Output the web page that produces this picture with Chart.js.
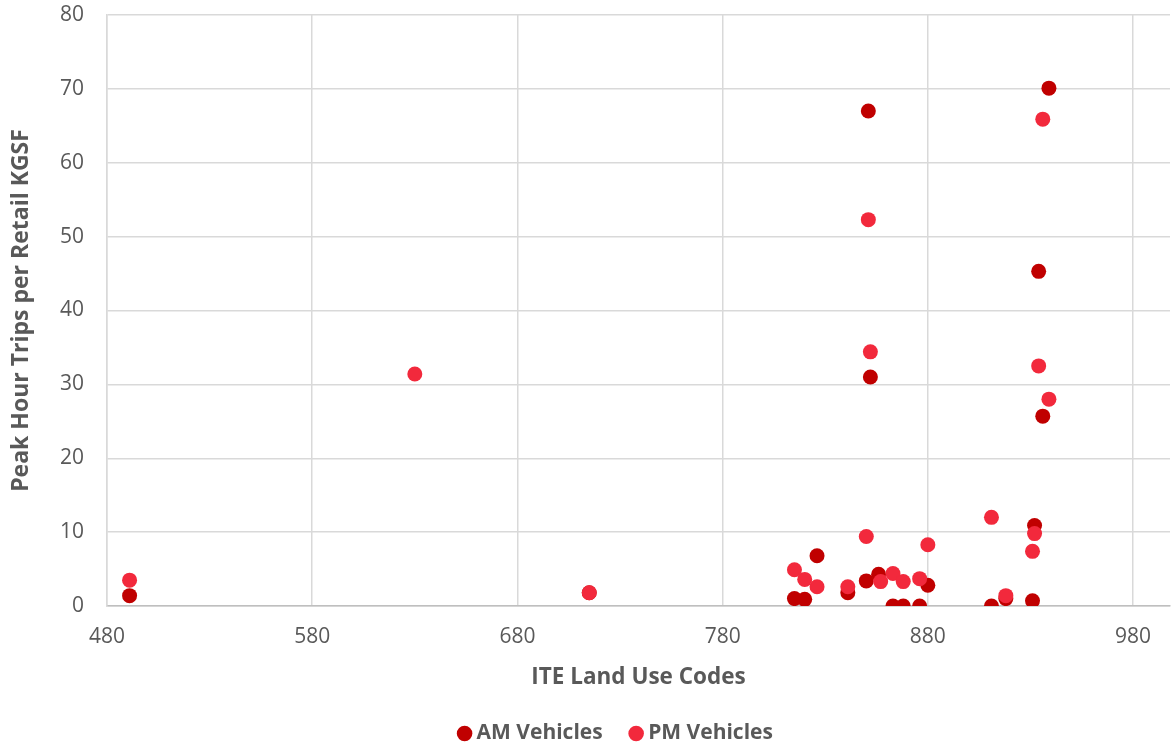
<!DOCTYPE html>
<html lang="en">

<head>
    <meta charset="UTF-8">
    <title>ITE Land Use Codes</title>
    <script src="https://cdn.jsdelivr.net/npm/chart.js"></script>
    <style>
        body { margin: 0; background: #ffffff; }
        .grafico { width: 1171px; height: 751px; }
    </style>
</head>

<body>
    <div class="grafico">
        <canvas id="myChart" width="1171" height="751"></canvas>
    </div>
</body>

</html>
<script>

    // AM vehicles: land use code + trips
    var amCodigos = [491, 715, 815, 820, 826, 841, 850, 851, 852, 856, 863, 868, 876, 880, 911, 918, 931, 932, 934, 936, 939];
    var amViagens = [1.4, 1.8, 1.0, 0.9, 6.8, 1.8, 3.4, 67.0, 31.0, 4.3, 0, 0, 0, 2.8, 0, 1.0, 0.7, 10.9, 45.3, 25.7, 70.1];

    // PM vehicles
    var pmCodigos = [491, 630, 715, 815, 820, 826, 841, 850, 851, 852, 857, 863, 868, 876, 880, 911, 918, 931, 932, 934, 936, 939];
    var pmViagens = [3.5, 31.4, 1.8, 4.9, 3.6, 2.6, 2.6, 9.4, 52.3, 34.4, 3.3, 4.4, 3.3, 3.7, 8.3, 12.0, 1.4, 7.4, 9.8, 32.5, 65.9, 28.0];

    var xTicks = [480, 580, 680, 780, 880, 980];
    var yTicks = [0, 10, 20, 30, 40, 50, 60, 70, 80];

    function pontos(xs, ys) {
        var lista = [];
        for (var i = 0; i < xs.length; i++) {
            lista.push({ x: xs[i], y: ys[i] });
        }
        return lista;
    }

    var cinza = '#595959';

    var dados = {
        datasets: [
            {
                label: 'AM Vehicles',
                data: pontos(amCodigos, amViagens),
                backgroundColor: '#C00000',
                borderColor: '#C00000',
                pointRadius: 7.5,
                pointBorderWidth: 0,
                order: 1
            },
            {
                label: 'PM Vehicles',
                data: pontos(pmCodigos, pmViagens),
                backgroundColor: '#F2293C',
                borderColor: '#F2293C',
                pointRadius: 7.5,
                pointBorderWidth: 0,
                order: 0
            }
        ]
    };

    // nudge the legend a bit to the right, like in the original
    const moverLegenda = {
        id: 'moverLegenda',
        afterLayout: function (chart) {
            if (chart.legend) {
                chart.legend.left += 33;
                chart.legend.right += 33;
            }
        }
    };

    const config = {
        type: 'scatter',
        data: dados,
        plugins: [moverLegenda],
        options: {
            responsive: false,
            animation: false,
            layout: { autoPadding: false, padding: { top: 15, right: 1, left: 0, bottom: -3 } },
            plugins: {
                tooltip: { enabled: false },
                legend: {
                    position: 'bottom',
                    labels: {
                        usePointStyle: true,
                        pointStyle: 'circle',
                        boxWidth: 3,
                        boxHeight: 11,
                        padding: 32,
                        color: cinza,
                        font: { family: 'Open Sans', size: 21, weight: 'bold' },
                        sort: function (a, b) { return a.datasetIndex - b.datasetIndex; }
                    }
                }
            },
            scales: {
                x: {
                    type: 'linear',
                    min: 480,
                    max: 998,
                    afterBuildTicks: function (scale) {
                        scale.ticks = xTicks.map(function (v) { return { value: v }; });
                    },
                    afterFit: function (scale) { scale.height = 85; },
                    grid: { color: '#D9D9D9', lineWidth: 1.5, drawTicks: true, tickLength: 18, tickColor: 'rgba(0,0,0,0)' },
                    border: { color: '#BFBFBF', width: 1.5 },
                    ticks: {
                        padding: 0,
                        color: cinza,
                        font: { family: 'Open Sans', size: 21 }
                    },
                    title: {
                        display: true,
                        text: 'ITE Land Use Codes',
                        color: cinza,
                        padding: { top: 0, bottom: 0 },
                        font: { family: 'Open Sans', size: 22.5, weight: 'bold' }
                    }
                },
                y: {
                    min: 0,
                    max: 80,
                    afterBuildTicks: function (scale) {
                        scale.ticks = yTicks.map(function (v) { return { value: v }; });
                    },
                    afterFit: function (scale) { scale.width = 107; },
                    grid: { color: '#D9D9D9', lineWidth: 1.5, drawTicks: true, tickLength: 23, tickColor: 'rgba(0,0,0,0)' },
                    border: { color: '#D9D9D9', width: 1.5 },
                    ticks: {
                        padding: 0,
                        color: cinza,
                        font: { family: 'Open Sans', size: 21 }
                    },
                    title: {
                        display: true,
                        text: 'Peak Hour Trips per Retail KGSF',
                        color: cinza,
                        padding: { top: 8, bottom: 0 },
                        font: { family: 'Open Sans', size: 23, weight: 'bold' }
                    }
                }
            }
        }
    };

    let myChart = new Chart(document.getElementById('myChart'), config);

</script>
